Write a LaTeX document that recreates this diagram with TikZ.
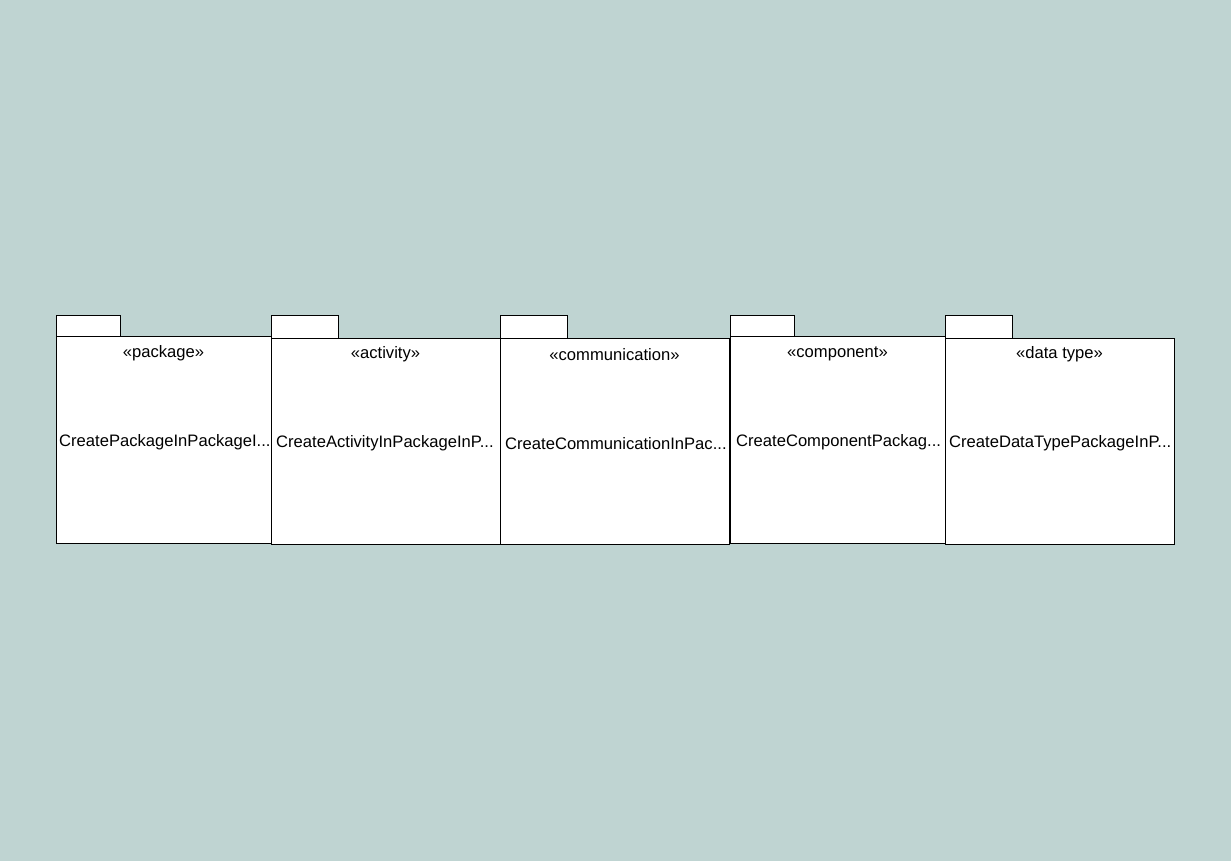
\documentclass[tikz,border=0pt]{standalone}
\usepackage{fontspec}
\setmainfont{Liberation Sans}
\definecolor{bg}{HTML}{BFD4D2}
\tikzset{
  pkg/.style={draw=black, fill=white, line width=0.9pt},
  stereo/.style={font=\fontsize{16.6}{19}\selectfont, inner sep=0pt, anchor=center},
  pname/.style={font=\fontsize{16.6}{19}\selectfont, inner sep=0pt, anchor=west}
}
\begin{document}
\begin{tikzpicture}[x=1pt,y=-1pt]
\fill[bg] (0,0) rectangle (1231,861);
\useasboundingbox (0,0) rectangle (1231,861);
% package 1
\draw[pkg] (56,315) rectangle (120,336);
\draw[pkg] (56,336) rectangle (271,543);
\node[stereo] (s1) at (163.5,353.5) {«package»};
\node[pname] (n1) at (59,442.5) {CreatePackageInPackageI...};
% package 2
\draw[pkg] (271,315) rectangle (338,338);
\draw[pkg] (271,338) rectangle (500,544);
\node[stereo] (s2) at (385.5,354.5) {«activity»};
\node[pname] (n2) at (276,443.5) {CreateActivityInPackageInP...};
% package 3
\draw[pkg] (500,315) rectangle (567,338);
\draw[pkg] (500,338) rectangle (729,544);
\node[stereo] (s3) at (614.5,354.5) {«communication»};
\node[pname] (n3) at (505,443.5) {CreateCommunicationInPac...};
% package 4
\draw[pkg] (730,315) rectangle (794,336);
\draw[pkg] (730,336) rectangle (945,543);
\node[stereo] (s4) at (837.5,353.5) {«component»};
\node[pname] (n4) at (736,442.5) {CreateComponentPackag...};
% package 5
\draw[pkg] (945,315) rectangle (1012,338);
\draw[pkg] (945,338) rectangle (1174,544);
\node[stereo] (s5) at (1059.5,354.5) {«data type»};
\node[pname] (n5) at (949,443.5) {CreateDataTypePackageInP...};
\end{tikzpicture}
\end{document}
